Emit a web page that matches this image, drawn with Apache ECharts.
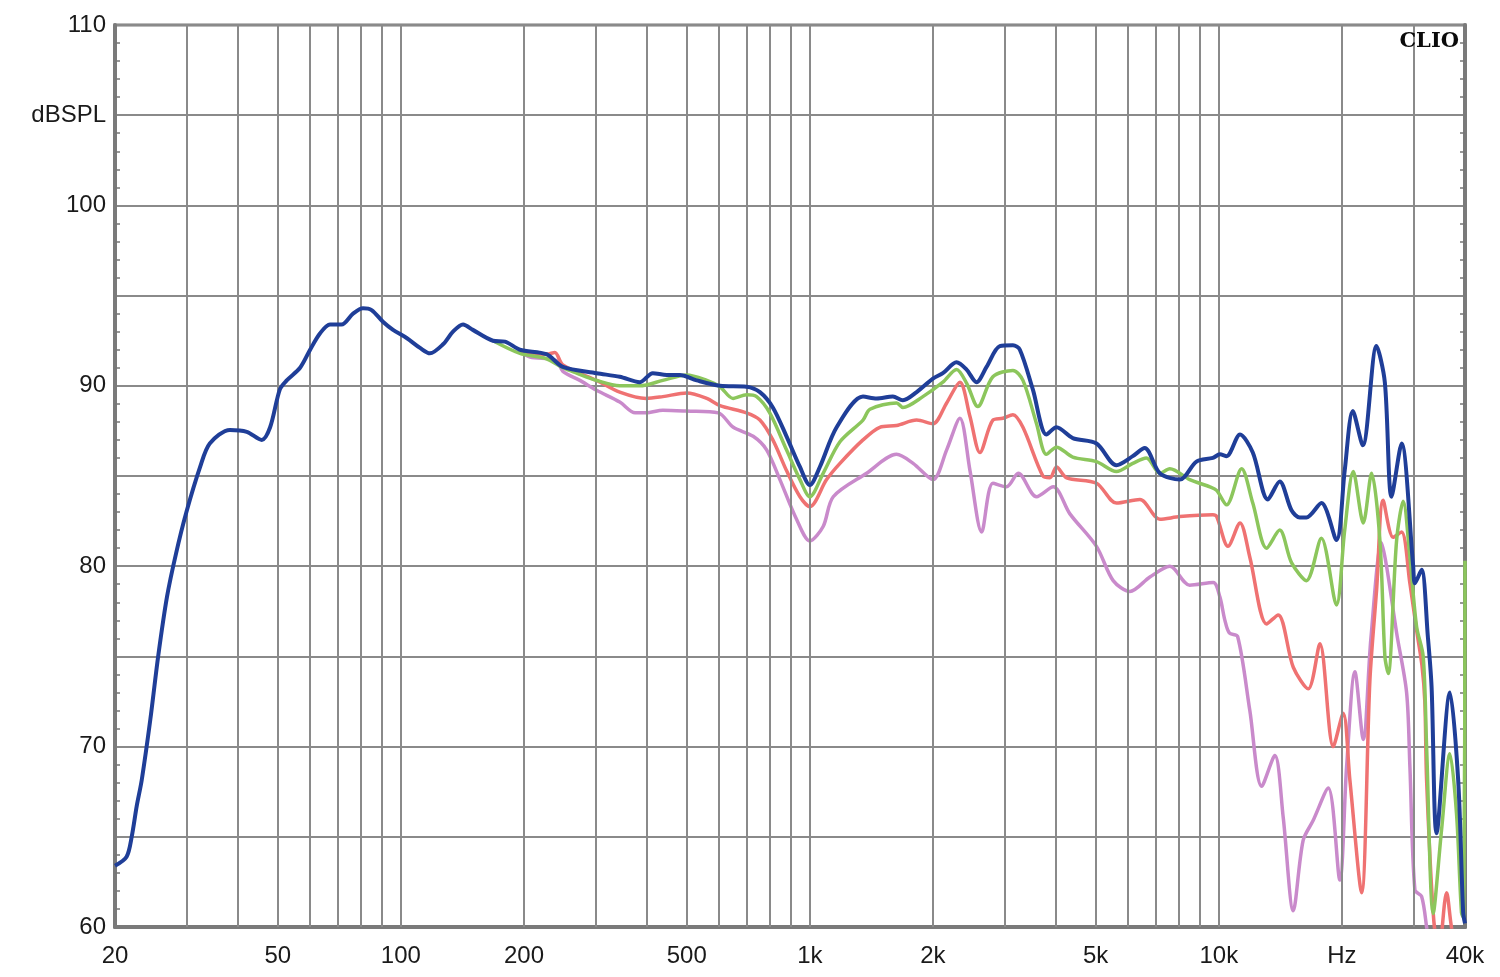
<!DOCTYPE html>
<html>
<head>
<meta charset="utf-8">
<script src="https://cdn.jsdelivr.net/npm/echarts@6/dist/echarts.min.js"></script>
<style>html,body{margin:0;padding:0;background:#fff}#c{width:1500px;height:977px}</style>
</head>
<body>
<div id="c"></div>
<script>
// Frequency grid lines (Hz) and labelled ticks
const gridFreqs = [30,40,50,60,70,80,90,100,200,300,400,500,600,700,800,900,1000,2000,3000,4000,5000,6000,7000,8000,9000,10000,20000,30000];
const tickFreqs = [20,50,100,200,500,1000,2000,5000,10000,20000,40000];
const tickLabels = ['20','50','100','200','500','1k','2k','5k','10k','Hz','40k'];

// Blue curve [Hz, dBSPL]
const blueFreq = [20,21.35,21.97,22.6,23.25,24.4,25.5,26.8,28.2,29.9,32.3,34.1,38.2,42.0,45.7,47.9,50.6,52.6,56.7,60.0,63.4,67.1,71.6,76.4,80.8,84.8,90.4,95.7,103.3,111.4,117.8,126.8,134.1,141.9,150,168,179.7,195.5,227,249,301,343,384,413,447,481,529,603,700,755,812,877,946,1000,1058,1163,1349,1456,1596,1689,1825,2000,2115,2284,2417,2556,2705,2915,3138,3263,3510,3790,4010,4395,5023,5620,6161,6590,7175,8030,8820,9670,10060,10450,11270,12110,13180,14090,15060,15780,16380,17820,19400,20320,21270,22500,24300,25470,26450,27990,29880,30170,31320,32450,33140,34080,36740,38490,39590,40000];
const blueDb = [63.4,63.9,65.0,66.7,68.15,71.5,75.0,78.3,80.7,83.0,85.5,86.8,87.55,87.45,87.0,87.7,89.8,90.3,91.0,92.0,92.9,93.4,93.4,94.0,94.3,94.2,93.55,93.1,92.65,92.1,91.8,92.3,93.0,93.4,93.1,92.5,92.45,92.0,91.75,91.05,90.7,90.5,90.2,90.7,90.6,90.6,90.3,90.0,89.95,89.65,88.8,87.2,85.5,84.5,85.5,87.7,89.4,89.3,89.4,89.2,89.65,90.4,90.7,91.3,90.9,90.2,91.05,92.2,92.25,92.0,89.8,87.3,87.7,87.1,86.8,85.6,86.1,86.55,85.15,84.8,85.8,86.0,86.2,86.1,87.3,86.3,83.7,84.7,83.1,82.7,82.7,83.5,81.45,85.3,88.6,86.7,92.2,90.2,83.85,86.8,80.0,79.05,79.8,76.1,73.3,65.2,73.0,68.15,60.8,60.2];

// Green curve
const greenFreq = [168,195.5,227,249,269,301,343,384,437,500,560,603,649,700,741,798,877,946,1000,1078,1185,1349,1403,1630,1689,1890,2115,2284,2417,2575,2803,3138,3320,3584,3790,4010,4395,5023,5620,6161,6654,7175,7590,8490,9510,9880,10450,11370,12110,13090,14090,15060,16380,17820,19400,20320,21320,22560,23640,24770,25480,25960,27220,28250,29330,30460,31610,32220,33440,35060,36740,38130,39220,39700,40000];
const greenDb = [92.5,91.8,91.5,91.0,90.7,90.3,90.0,90.0,90.3,90.6,90.3,89.95,89.3,89.5,89.4,88.5,86.45,84.8,83.85,85.15,86.9,88.1,88.7,89.05,88.8,89.4,90.2,90.9,90.15,88.85,90.5,90.85,90.3,87.9,86.2,86.6,86.05,85.8,85.25,85.7,86.0,85.15,85.4,84.8,84.4,84.2,83.4,85.4,83.5,81.0,82.0,80.2,79.2,81.55,77.85,82.0,85.25,82.4,85.15,81.45,75.0,74.05,81.45,83.6,80.5,76.65,75.0,70.0,60.75,65.4,69.6,66.3,60.8,60.5,80.3];

// Red curve
const redFreq = [195.5,227,238,249,301,343,398,437,500,560,603,700,755,812,877,946,1000,1099,1185,1349,1483,1630,1825,2000,2161,2328,2464,2606,2803,2965,3138,3320,3715,3865,4010,4246,5023,5620,6413,7175,8030,9670,9880,10530,11270,11910,13090,13970,15210,16550,17670,19050,20150,20920,22350,23420,24320,25230,26700,27990,29330,30460,31390,31900,32220,33440,34500,36060,37410,40000];
const redDb = [91.8,91.75,91.85,91.15,90.3,89.65,89.3,89.4,89.6,89.3,88.9,88.5,88.1,87.0,85.3,83.85,83.3,84.8,85.7,87.0,87.7,87.8,88.1,87.9,89.05,90.2,88.3,86.3,88.1,88.2,88.4,87.7,85.0,84.9,85.5,84.9,84.6,83.5,83.7,82.6,82.75,82.85,82.75,81.1,82.4,80.5,76.8,77.3,74.4,73.2,75.7,70.0,71.85,68.15,61.9,73.7,78.7,83.65,81.6,81.9,79.05,76.45,74.5,72.5,68.15,60.8,58.5,61.9,59.5,58.0];

// Pink curve
const pinkFreq = [195.5,207,240,249,274,301,343,374,398,437,500,597,650,727,784,845,928,1000,1078,1141,1377,1630,1789,2000,2161,2328,2464,2631,2803,3028,3233,3584,3938,4325,5023,5518,6063,6785,7590,8490,9691,10060,10350,10610,11120,11910,12730,13710,14370,15210,16080,17010,18520,19770,20540,21520,22560,23550,25000,25720,27220,28790,29330,30170,31320,32220,33000];
const pinkDb = [91.9,91.6,91.4,90.8,90.3,89.75,89.1,88.5,88.5,88.65,88.6,88.5,87.7,87.2,86.45,84.8,82.6,81.4,82.2,83.85,85.15,86.2,85.7,84.8,86.45,88.2,85.3,81.9,84.6,84.4,85.15,83.85,84.4,82.9,81.1,79.2,78.6,79.4,80.0,78.95,79.1,78.3,77.0,76.3,76.1,72.0,67.8,69.5,66.1,60.9,64.8,65.9,67.7,62.6,68.9,74.15,70.4,76.0,81.3,80.0,76.3,73.0,68.9,62.05,61.7,60.0,58.0];

const zip = (f, d) => f.map((v, i) => [v, d[i]]);

const GRID_COLOR = '#8a8a8a';
const FRAME_COLOR = '#7a7a7a';
const LABEL_FONT = {fontFamily: 'Liberation Sans, Arial, sans-serif', fontSize: 24, color: '#1a1a1a'};

const gridLineData = gridFreqs.map(f => ({xAxis: f, label: {show: false}}));
const labelLineData = tickFreqs.map((f, i) => ({
  xAxis: f,
  lineStyle: {color: 'rgba(0,0,0,0)', width: 0},
  label: {show: true, position: 'start', distance: 17, formatter: tickLabels[i], ...LABEL_FONT}
}));

function curve(name, f, d, color, width, z) {
  return {
    name, type: 'line', data: zip(f, d), showSymbol: false, symbol: 'none',
    smooth: 0.3, clip: true, z,
    lineStyle: {color, width}, animation: false
  };
}

const chart = echarts.init(document.getElementById('c'), null, {renderer: 'canvas'});
chart.setOption({
  backgroundColor: '#ffffff',
  animation: false,
  title: {
    text: 'CLIO', right: 36, top: 26,
    textStyle: {fontFamily: 'DejaVu Serif, Liberation Serif, serif', fontWeight: 900, fontSize: 21, color: '#0a0a0a'}
  },
  grid: {left: 115, right: 35, top: 25, bottom: 50, show: true, borderColor: FRAME_COLOR, borderWidth: 3, backgroundColor: 'transparent'},
  xAxis: {
    type: 'log', logBase: 10, min: 20, max: 40000,
    axisLine: {show: true, lineStyle: {color: FRAME_COLOR, width: 4}},
    axisTick: {show: false}, axisLabel: {show: false}, splitLine: {show: false}
  },
  yAxis: [
    {
      type: 'value', min: 60, max: 110, interval: 5, position: 'left',
      axisLine: {show: true, lineStyle: {color: FRAME_COLOR, width: 4}},
      axisTick: {show: true, inside: true, length: 0, lineStyle: {color: FRAME_COLOR}},
      minorTick: {show: true, splitNumber: 5, length: 5, lineStyle: {color: '#777', width: 1.5}},
      axisLabel: {
        margin: 9, ...LABEL_FONT,
        formatter: v => (v % 10 === 0 ? String(v) : (v === 105 ? 'dBSPL' : ''))
      },
      splitLine: {show: true, lineStyle: {color: GRID_COLOR, width: 2}}
    },
    {
      type: 'value', min: 60, max: 110, interval: 5, position: 'right',
      axisLine: {show: true, lineStyle: {color: FRAME_COLOR, width: 4}},
      axisTick: {show: true, inside: true, length: 0},
      minorTick: {show: true, splitNumber: 5, length: 5, lineStyle: {color: '#777', width: 1.5}},
      axisLabel: {show: false}, splitLine: {show: false}
    }
  ],
  series: [
    {
      name: 'grid', type: 'line', data: [[20, 60]], showSymbol: false, symbol: 'none',
      lineStyle: {opacity: 0}, z: 1, silent: true, animation: false,
      markLine: {
        silent: true, symbol: ['none', 'none'], animation: false,
        lineStyle: {color: GRID_COLOR, width: 2, type: 'solid'},
        data: gridLineData.concat(labelLineData)
      }
    },
    curve('pink', pinkFreq, pinkDb, '#c98acb', 3.5, 3),
    curve('red', redFreq, redDb, '#ef7272', 3.5, 4),
    curve('green', greenFreq, greenDb, '#8cc65c', 3.5, 5),
    curve('blue', blueFreq, blueDb, '#1f3e98', 4, 6)
  ]
});
</script>
</body>
</html>
